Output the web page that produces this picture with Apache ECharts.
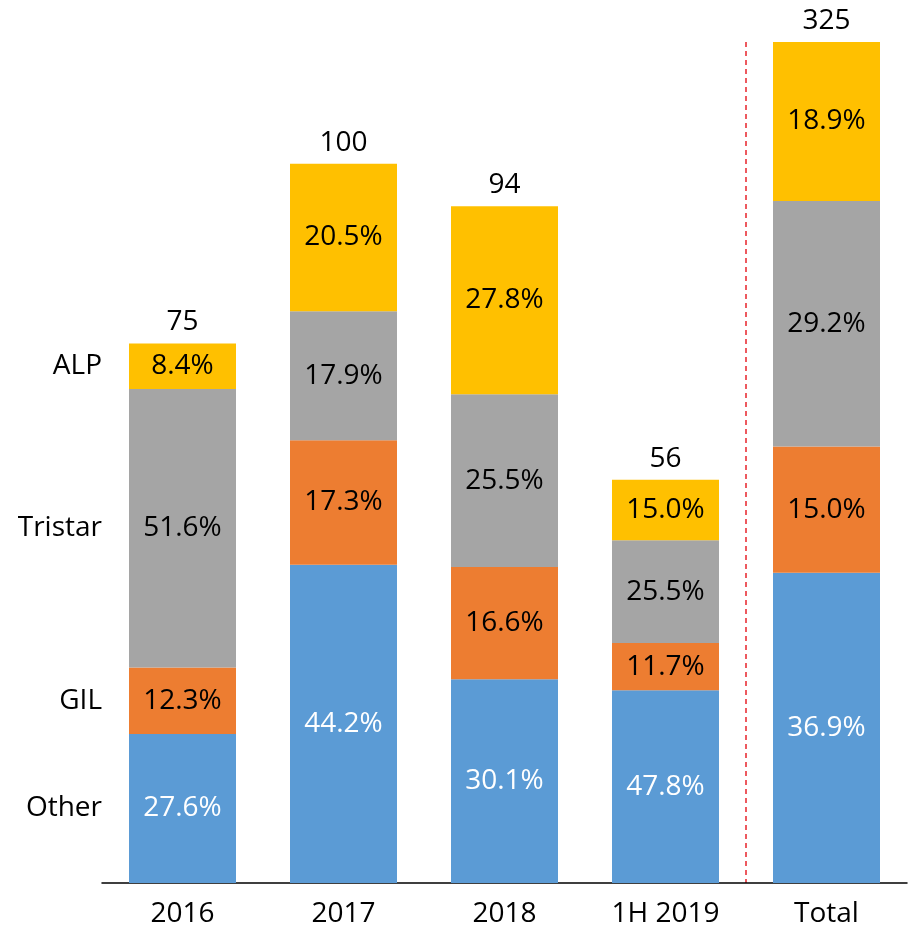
<!DOCTYPE html>
<html>
<head>
<meta charset="utf-8">
<script src="https://cdn.jsdelivr.net/npm/echarts@6/dist/echarts.min.js"></script>
<style>
  html, body { margin: 0; padding: 0; background: #fff; }
  #chart { width: 914px; height: 928px; }
</style>
</head>
<body>
<div id="chart"></div>
<script>
// categories and data
const categories = ['2016', '2017', '2018', '1H 2019', 'Total'];
const totals = [75, 100, 94, 56, 325];
const segmentNames = ['Other', 'GIL', 'Tristar', 'ALP'];
const otherShare = [27.6, 44.2, 30.1, 47.8, 36.9];
const gilShare = [12.3, 17.3, 16.6, 11.7, 15.0];
const tristarShare = [51.6, 17.9, 25.5, 25.5, 29.2];
const alpShare = [8.4, 20.5, 27.8, 15.0, 18.9];

const shares = [otherShare, gilShare, tristarShare, alpShare];
const colors = ['#5B9BD5', '#ED7D31', '#A5A5A5', '#FFC000'];
const labelColors = ['#fff', '#000', '#000', '#000'];
const FONT = 'Open Sans';
const FS = 28;
const totalIdx = categories.length - 1;

const chart = echarts.init(document.getElementById('chart'));

const series = [];

// year bars (left scale) and the Total bar (its own scale)
shares.forEach((sh, k) => {
  const pctLabel = {
    show: true,
    position: 'inside',
    color: labelColors[k],
    fontSize: FS,
    fontFamily: FONT,
    formatter: (p) => sh[p.dataIndex].toFixed(1) + '%'
  };
  series.push({
    name: segmentNames[k],
    type: 'bar',
    stack: 'years',
    yAxisIndex: 0,
    barWidth: 107,
    barGap: '-100%',
    itemStyle: { color: colors[k] },
    label: pctLabel,
    data: sh.map((v, j) => (j < totalIdx ? v * totals[j] / 100 : '-'))
  });
  series.push({
    name: segmentNames[k] + ' total',
    type: 'bar',
    stack: 'total',
    yAxisIndex: 1,
    barWidth: 107,
    barGap: '-100%',
    itemStyle: { color: colors[k] },
    label: pctLabel,
    data: sh.map((v, j) => (j === totalIdx ? v * totals[j] / 100 : '-'))
  });
});

// totals above each bar
const topLabel = {
  show: true,
  position: 'top',
  distance: 7,
  color: '#000',
  fontSize: FS,
  fontFamily: FONT,
  formatter: (p) => String(totals[p.dataIndex])
};
series.push({
  type: 'bar', stack: 'years', yAxisIndex: 0, barWidth: 107, barGap: '-100%',
  itemStyle: { color: 'transparent' }, label: topLabel,
  data: totals.map((v, j) => (j < totalIdx ? 0 : '-'))
});
series.push({
  type: 'bar', stack: 'total', yAxisIndex: 1, barWidth: 107, barGap: '-100%',
  itemStyle: { color: 'transparent' }, label: topLabel,
  data: totals.map((v, j) => (j === totalIdx ? 0 : '-'))
});

// segment names to the left of the first bar
shares.forEach((sh, k) => {
  series.push({
    type: 'bar',
    stack: 'names',
    yAxisIndex: 0,
    barWidth: 107,
    barGap: '-100%',
    silent: true,
    itemStyle: { color: 'transparent' },
    label: {
      show: true,
      position: 'left',
      distance: 27,
      color: '#000',
      fontSize: FS,
      fontFamily: FONT,
      formatter: () => segmentNames[k]
    },
    data: sh.map((v, j) => (j === 0 ? v * totals[j] / 100 : '-'))
  });
});

// only the boundary before "Total" gets the red dashed divider
const dividerColors = categories.map((c, i) => (i === totalIdx ? '#E8232A' : 'rgba(0,0,0,0)'));
dividerColors.push('rgba(0,0,0,0)');

const option = {
  animation: false,
  backgroundColor: '#fff',
  grid: { left: 102, right: 7, top: 42, bottom: 45 },
  xAxis: {
    type: 'category',
    data: categories,
    axisLine: { lineStyle: { color: '#000', width: 1.5 } },
    axisTick: { show: false },
    axisLabel: { color: '#000', fontSize: FS, fontFamily: FONT, margin: 17 },
    splitLine: {
      show: true,
      interval: 0,
      lineStyle: { color: dividerColors, type: [5, 4], width: 1.5 }
    }
  },
  yAxis: [
    { type: 'value', min: 0, max: 116.8, show: false, splitLine: { show: false } },
    { type: 'value', min: 0, max: 325, show: false, splitLine: { show: false } }
  ],
  series: series
};

chart.setOption(option);
</script>
</body>
</html>
